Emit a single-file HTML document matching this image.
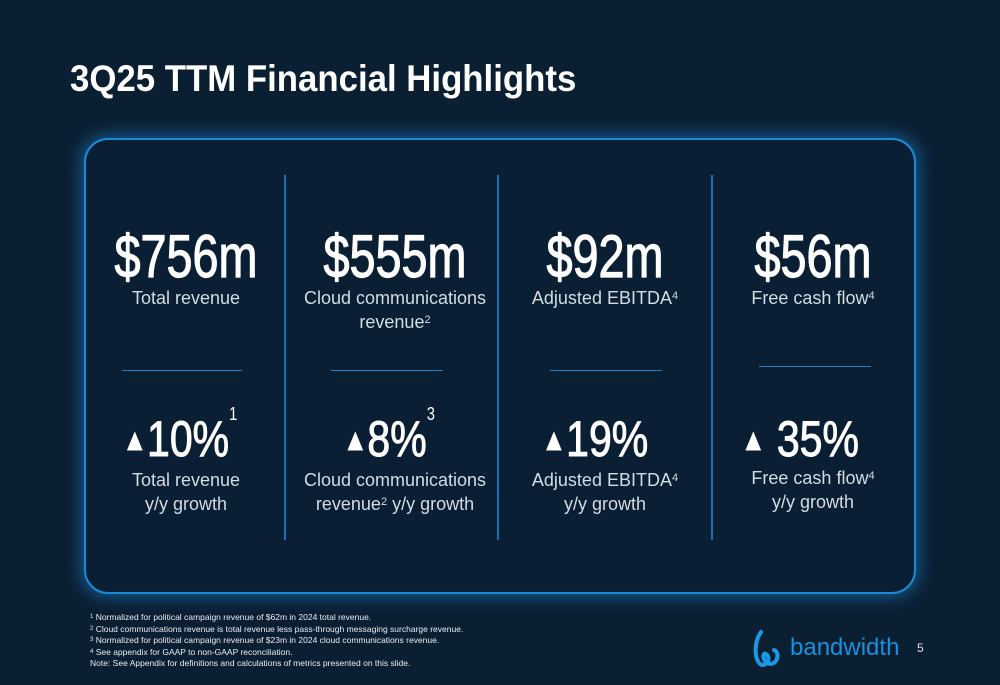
<!DOCTYPE html>
<html><head><meta charset="utf-8"><style>
body{margin:0;width:1000px;height:685px;background:#0b1f33;font-family:"Liberation Sans",sans-serif;color:#fff;position:relative;overflow:hidden}
.abs{position:absolute}
#title{left:70px;top:58px;font-size:37px;font-weight:bold;transform:scaleX(0.94);transform-origin:left;white-space:nowrap}
#card{left:84px;top:138px;width:828px;height:452px;border:2px solid #1c8ad6;border-radius:24px;box-shadow:0 0 16px 3px rgba(30,140,220,.55);background:#0a1f33}
.div{width:2px;top:175px;height:365px;background:#1770b5}
.col{width:210px;text-align:center}
.big{font-size:60px;top:222px;white-space:nowrap;transform:scaleX(0.78);-webkit-text-stroke:1.2px #fff}
.lbl{font-size:18px;color:#d3dbe3;line-height:24px;top:286px}
.hr{height:1px;background:#1d82c8;top:370px}
.gr{font-size:50px;top:410px;white-space:nowrap;transform:scaleX(0.82);-webkit-text-stroke:1px #fff}
.gl{font-size:18px;color:#d3dbe3;line-height:24px;top:468px}
sup{font-size:11px;vertical-align:top;position:relative;top:-2px}
.gr sup{font-size:18px;top:-6px;-webkit-text-stroke:0}
.tri{font-size:30px;vertical-align:6px}
#notes{left:90px;top:612px;font-size:8.5px;line-height:11.5px;color:#e8edf2}
#notes sup{font-size:6px;top:0}
</style></head><body>
<div id="title" class="abs">3Q25 TTM Financial Highlights</div>
<div id="card" class="abs"></div>
<div class="abs div" style="left:284px"></div>
<div class="abs div" style="left:497px"></div>
<div class="abs div" style="left:711px"></div>

<div class="abs col big" style="left:81px">$756m</div>
<div class="abs col lbl" style="left:81px">Total revenue</div>
<div class="abs hr" style="left:122px;width:120px"></div>
<div class="abs col gr" style="left:75px"><span class="tri">▲</span>10%<sup>1</sup></div>
<div class="abs col gl" style="left:81px">Total revenue<br>y/y growth</div>

<div class="abs col big" style="left:290px">$555m</div>
<div class="abs col lbl" style="left:290px">Cloud communications<br>revenue<sup>2</sup></div>
<div class="abs hr" style="left:331px;width:112px"></div>
<div class="abs col gr" style="left:284px"><span class="tri">▲</span>8%<sup>3</sup></div>
<div class="abs col gl" style="left:290px">Cloud communications<br>revenue<sup>2</sup> y/y growth</div>

<div class="abs col big" style="left:500px">$92m</div>
<div class="abs col lbl" style="left:500px">Adjusted EBITDA<sup>4</sup></div>
<div class="abs hr" style="left:550px;width:112px"></div>
<div class="abs col gr" style="left:490px"><span class="tri">▲</span>19%</div>
<div class="abs col gl" style="left:500px">Adjusted EBITDA<sup>4</sup><br>y/y growth</div>

<div class="abs col big" style="left:708px">$56m</div>
<div class="abs col lbl" style="left:708px">Free cash flow<sup>4</sup></div>
<div class="abs hr" style="left:759px;width:112px;top:366px"></div>
<div class="abs col gr" style="left:695px"><span class="tri">▲</span> 35%</div>
<div class="abs col gl" style="left:708px;top:466px">Free cash flow<sup>4</sup><br>y/y growth</div>

<div id="notes" class="abs">
<sup>1</sup> Normalized for political campaign revenue of $62m in 2024 total revenue.<br>
<sup>2</sup> Cloud communications revenue is total revenue less pass-through messaging surcharge revenue.<br>
<sup>3</sup> Normalized for political campaign revenue of $23m in 2024 cloud communications revenue.<br>
<sup>4</sup> See appendix for GAAP to non-GAAP reconciliation.<br>
Note: See Appendix for definitions and calculations of metrics presented on this slide.</div>

<svg class="abs" style="left:752px;top:628px" width="30" height="42">
<path d="M9 4 C2 14 2 30 8 36 C14 40 20 30 14 26 C10 24 10 34 18 36 C26 36 28 24 22 22" fill="none" stroke="#1a9ae6" stroke-width="4" stroke-linecap="round"/></svg>
<div class="abs" style="left:790px;top:634px;font-size:24px;color:#1a8fda">bandwidth</div>
<div class="abs" style="left:917px;top:641px;font-size:12px;color:#dde">5</div>
</body></html>
